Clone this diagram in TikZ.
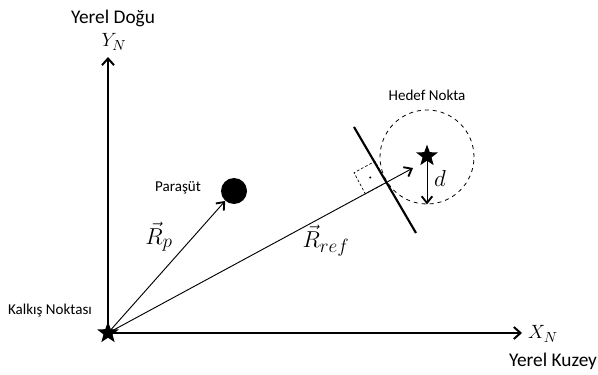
\documentclass[tikz,border=0pt]{standalone}
\usepackage{fontspec}
\setmainfont{Carlito}
\DeclareMathSizes{19}{19}{15}{11}
\usetikzlibrary{arrows.meta,shapes.geometric,calc}
\begin{document}
\begin{tikzpicture}[x=0.75pt,y=-0.75pt,
  axis/.style={line width=1.5pt,-{Straight Barb[length=5pt,width=9pt,line width=1.5pt]}},
  vec/.style={line width=0.7pt,-{Straight Barb[length=5pt,width=8pt,line width=1.4pt]}},
  starnode/.style={star,star points=5,star point ratio=2.4,fill=black,inner sep=0pt,minimum size=17pt},
  lbl/.style={font=\fontsize{14.5}{17}\selectfont},
  smalllbl/.style={font=\fontsize{11.3}{13}\selectfont},
  mathlbl/.style={font=\fontsize{15}{18}\selectfont},
  biglbl/.style={font=\fontsize{19}{22}\selectfont}]
\useasboundingbox (0,0) rectangle (598,374);
% origin and axes
\node[starnode] (O) at (108,333) {};
\coordinate (Ytip) at (108,57);
\coordinate (Xtip) at (522,333);
\draw[axis] (O.center) -- (Ytip);
\draw[axis] (O.center) -- (Xtip);
\node[mathlbl] (YN) at (114,42) {$Y_N$};
\node[lbl] (YD) at (113,18) {Yerel Doğu};
\node[mathlbl] (XN) at (543,334) {$X_N$};
\node[lbl] (YK) at (553,361) {Yerel Kuzey};
\node[smalllbl] (KN) at (50,311) {Kalkış Noktası};
% parachute
\node[circle,fill=black,minimum size=19.5pt,inner sep=0pt] (P) at (234,191) {};
\node[smalllbl] (PL) at (178,188) {Paraşüt};
\draw[vec] (O.center) -- (P);
\node[biglbl] (RP) at (159,237) {$\vec{R}_p$};
% target
\node[circle,draw,dashed,line width=0.6pt,minimum size=70.5pt,inner sep=0pt] (T) at (427,157) {};
\node[smalllbl] (HN) at (427,95) {Hedef Nokta};
\draw[vec] (427,160) -- (T.south);
\node[starnode] (S) at (427,156) {};
\node[biglbl] (D) at (440,178) {$d$};
% reference vector
\coordinate (Rt) at (413,168);
\draw[vec] (O.center) -- (Rt);
\node[biglbl] (RR) at (326,241) {$\vec{R}_{ref}$};
% perpendicular line
\coordinate (L1) at (354,127);
\coordinate (L2) at (416,233);
\draw[line width=1.6pt] (L1) -- (L2);
% right-angle mark
\draw[dashed,line width=0.5pt,dash pattern=on 2pt off 1.5pt] (386.4,182.4) -- (365.3,193.8) -- (354,172.7) -- (375,161.3) -- cycle;
\fill (370.2,177.5) circle (0.8pt);
\end{tikzpicture}
\end{document}
